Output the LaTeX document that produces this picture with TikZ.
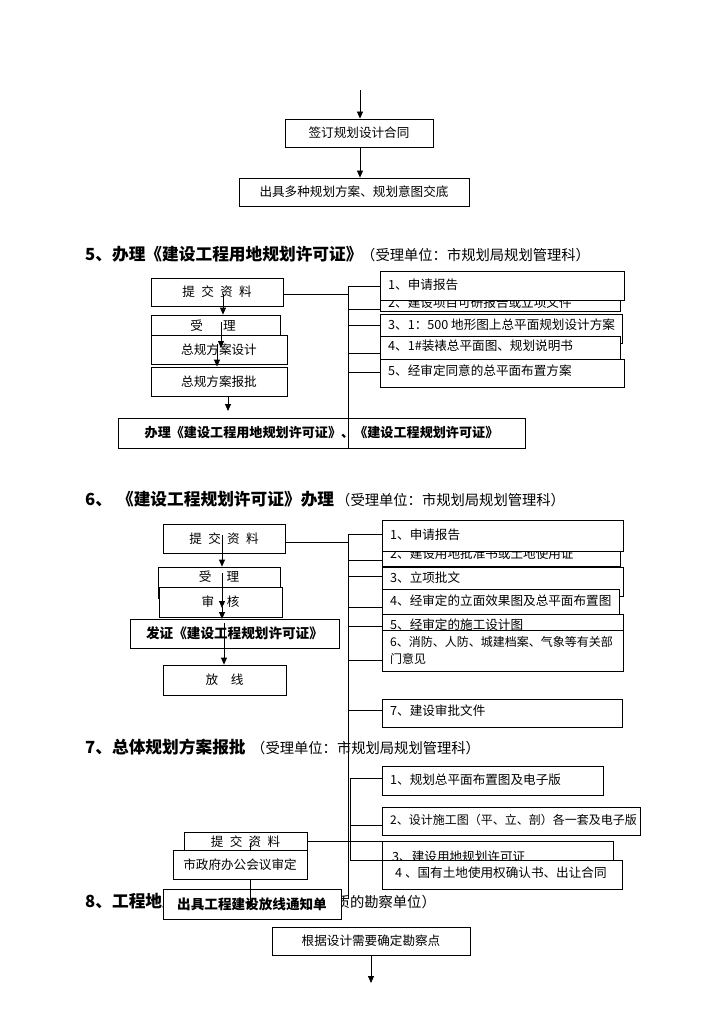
\documentclass[tikz,border=0pt]{standalone}
\usepackage{fontspec}
\setmainfont{Noto Sans CJK SC}
\usetikzlibrary{arrows.meta}
\newcommand\fsz[1]{\fontsize{#1pt}{#1pt}\selectfont}
\newcommand\gp[1]{\hspace{#1em}}
\newcommand\mkbox[6]{\node[box,minimum width={#3-#2},minimum height={#5-#4}] (#1) at ({(#2+#3)/2},{(#4+#5)/2}) {#6};}
\newcommand\ltxt[4]{\node[lt] (#1) at (#2,#3) {#4};}
\begin{document}
\begin{tikzpicture}[x=1pt,y=-1pt,
  box/.style={draw=black,fill=white,line width=0.8pt,inner sep=0pt,font=\fsz{12.6}},
  lt/.style={anchor=west,inner sep=0pt,font=\fsz{12.6}},
  ln/.style={line width=0.8pt},
  arr/.style={line width=0.8pt,-{Triangle[length=7pt,width=6pt]}},
  hb/.style={anchor=base west,inner sep=0pt,font=\fsz{16.7}\bfseries},
  hn/.style={anchor=base west,inner sep=0pt,font=\fsz{14.3}}]
\useasboundingbox (0,0) rectangle (724,1024);

% ---------- top ----------
\coordinate (t0) at (360,90);
\mkbox{A}{285}{433}{119}{147}{签订规划设计合同}
\mkbox{B}{239}{469}{178}{206}{出具多种规划方案、规划意图交底}
\draw[arr] (t0) -- (t0 |- A.north);
\draw[arr] (t0 |- A.south) -- (t0 |- B.north);

% ---------- headings ----------
\node[hb] (h5a) at (85,260) {5、办理《建设工程用地规划许可证》};
\node[hn] (h5b) at (361,260) {（受理单位：市规划局规划管理科）};
\node[hb] (h6a) at (85,505) {6、\gp{0.3}《建设工程规划许可证》办理};
\node[hn] (h6b) at (336,505) {（受理单位：市规划局规划管理科）};
\node[hb] (h7a) at (85,753) {7、总体规划方案报批};
\node[hn] (h7b) at (251,753) {（受理单位：市规划局规划管理科）};
\node[hb] (h8a) at (85,907) {8、工程地质勘察};
\node[hn,anchor=base east] (h8b) at (436,907) {（受理单位：有资质的勘察单位）};

% ---------- section 5 ----------
\mkbox{s5a}{151}{283}{278}{306}{提\gp{0.5}交\gp{0.5}资\gp{0.5}料}
\mkbox{s5b}{151}{280}{315}{344}{}
\node[box,draw=none,fill=none] (s5bt) at (213,326) {受\gp{1.6}理};
\mkbox{s5c}{151}{287}{335}{364}{总规方案设计}
\mkbox{s5d}{151}{287}{367}{396}{总规方案报批}
\mkbox{s5e}{118}{525}{418}{448}{\fsz{13.1}\bfseries 办理《建设工程用地规划许可证》、《建设工程规划许可证》}

\mkbox{p52}{380}{620}{291}{311}{}
\ltxt{p52t}{388}{303}{2、建设项目可研报告或立项文件}
\mkbox{p51}{380}{624}{271}{300}{}
\ltxt{p51t}{388}{285}{1、申请报告}
\mkbox{p53}{380}{622}{314}{343}{}
\ltxt{p53t}{388}{325}{3、1：500 地形图上总平面规划设计方案}
\mkbox{p54}{380}{620}{336}{366}{}
\ltxt{p54t}{388}{346}{4、1\#装裱总平面图、规划说明书}
\mkbox{p55}{380}{624}{359}{387}{}
\ltxt{p55t}{388}{371}{5、经审定同意的总平面布置方案}

\coordinate (v5t) at (348,286);
\coordinate (v5b) at (348,449);
\draw[ln] (v5t) -- (v5b);
\draw[ln] ([yshift=-2pt]s5a.east) -- ([yshift=-2pt]s5a.east -| v5t);
\draw[ln] (v5t) -- (v5t -| p51.west);
\draw[ln] (v5t |- 0,309) -- (p52.west |- 0,309);
\draw[ln] (v5t |- 0,325) -- (p53.west |- 0,325);
\draw[ln] (v5t |- 0,353) -- (p54.west |- 0,353);
\draw[ln] (v5t |- 0,372) -- (p55.west |- 0,372);

\coordinate (a51) at (223,294);
\draw[arr] (a51) -- (a51 |- s5b.north);
\coordinate (a52) at (221,322);
\draw[arr] (a52) -- (221,348);
\coordinate (a53) at (217,344);
\draw[arr] (a53) -- (a53 |- s5d.north);
\coordinate (a54) at (228,396);
\draw[arr] (a54) -- (228,411);

% ---------- section 6 ----------
\mkbox{s6a}{163}{285}{524}{553}{提\gp{0.5}交\gp{0.5}资\gp{0.5}料}
\mkbox{s6b}{158}{280}{567}{598}{}
\node[box,draw=none,fill=none] (s6bt) at (219,577) {受\gp{1.2}理};
\mkbox{s6c}{159}{282}{587}{617}{审\gp{1}核}
\mkbox{s6d}{130}{339}{619}{648}{\fsz{13.6}\bfseries 发证《建设工程规划许可证》}
\mkbox{s6e}{163}{286}{665}{695}{放\gp{1}线}

\mkbox{q62}{382}{620}{540}{566}{}
\ltxt{q62t}{390}{554}{2、建设用地批准书或土地使用证}
\mkbox{q61}{382}{623}{520}{551}{}
\ltxt{q61t}{390}{535}{1、申请报告}
\mkbox{q63}{382}{623}{567}{596}{}
\ltxt{q63t}{390}{578}{3、立项批文}
\mkbox{q64}{382}{619}{589}{614}{}
\ltxt{q64t}{390}{601}{4、经审定的立面效果图及总平面布置图}
\mkbox{q65}{382}{623}{614}{640}{}
\ltxt{q65t}{390}{625}{5、经审定的施工设计图}
\mkbox{q66}{382}{623}{630}{671}{}
\node[lt,align=left,font=\fontsize{12pt}{17pt}\selectfont] (q66t) at (390,650) {6、消防、人防、城建档案、气象等有关部\\门意见};
\mkbox{q67}{382}{622}{699}{727}{}
\ltxt{q67t}{390}{711}{7、建设审批文件}

\coordinate (v6t) at (348,534);
\coordinate (v6b) at (348,898);
\draw[ln] (v6t) -- (v6b);
\draw[ln] ([yshift=-3.5pt]s6a.east) -- ([yshift=-3.5pt]s6a.east -| v6t);
\draw[ln] (v6t) -- (v6t -| q61.west);
\draw[ln] (v6t |- 0,560) -- (q62.west |- 0,560);
\draw[ln] (v6t |- 0,576) -- (q63.west |- 0,576);
\draw[ln] (v6t |- 0,607) -- (q64.west |- 0,607);
\draw[ln] (v6t |- 0,626) -- (q65.west |- 0,626);
\draw[ln] (v6t |- 0,660) -- (q66.west |- 0,660);
\draw[ln] (v6t |- 0,710) -- (q67.west |- 0,710);

\coordinate (a61) at (222,535);
\draw[arr] (a61) -- (a61 |- s6b.north);
\coordinate (a62) at (222,573);
\draw[arr] (a62) -- (222,608);
\draw[arr] (222,607) -- (222 ,619);
\coordinate (a63) at (224,623);
\draw[arr] (a63) -- (a63 |- s6e.north);

% ---------- section 7 ----------
\mkbox{w71}{382}{603}{766}{795}{}
\ltxt{w71t}{390}{780}{1、规划总平面布置图及电子版}
\mkbox{w72}{382}{640}{807}{835}{}
\node[lt,font=\fsz{12}] (w72t) at (390,820) {2、设计施工图（平、立、剖）各一套及电子版};
\mkbox{w73}{382}{613}{841}{862}{}
\ltxt{w73t}{392}{857}{3、建设用地规划许可证}
\mkbox{w74}{382}{622}{860}{889}{}
\ltxt{w74t}{395}{873}{4 、国有土地使用权确认书、出让合同}

\coordinate (v7t) at (350,778);
\coordinate (v7b) at (350,860);
\draw[ln] (v7t) -- (v7b);
\draw[ln] (v7t) -- (v7t -| w71.west);
\draw[ln] (v7t |- 0,825) -- (w72.west |- 0,825);
\draw[ln] (v7b) -- (v7b -| w74.west);

\mkbox{s7a}{184}{307}{832}{851}{提\gp{0.5}交\gp{0.5}资\gp{0.5}料}
\draw[ln] (s7a.east) -- (s7a.east -| w73.west);
\coordinate (a71) at (250,843);
\draw[ln] (a71) -- (a71 |- s7a.south);
\mkbox{s7b}{173}{307}{850}{879}{市政府办公会议审定}
\mkbox{s7c}{163}{341}{889}{919}{\fsz{13.6}\bfseries 出具工程建设放线通知单}
\draw[arr] (s7b.south -| a71) -- (250,908);

% ---------- section 8 ----------
\mkbox{s8a}{272}{470}{927}{955}{根据设计需要确定勘察点}
\coordinate (e8) at (371,983);
\draw[arr] (s8a.south -| e8) -- (e8);
\end{tikzpicture}
\end{document}
